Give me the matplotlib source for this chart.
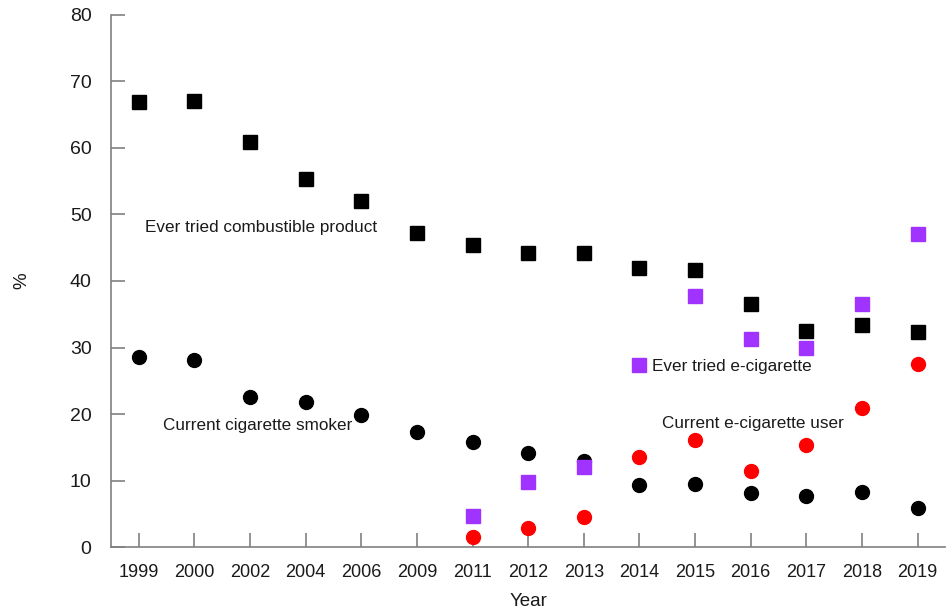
import matplotlib
matplotlib.use("Agg")
import matplotlib.pyplot as plt

plt.rcParams['font.family'] = ['Liberation Sans', 'DejaVu Sans']

years = ['1999', '2000', '2002', '2004', '2006', '2009', '2011', '2012',
         '2013', '2014', '2015', '2016', '2017', '2018', '2019']
ever_combustible = [66.9, 67.0, 60.9, 55.3, 52.0, 47.2, 45.4, 44.2,
                    44.2, 42.0, 41.7, 36.6, 32.5, 33.4, 32.4]
current_cig = [28.6, 28.1, 22.6, 21.8, 19.8, 17.3, 15.8, 14.1,
               12.9, 9.3, 9.5, 8.1, 7.7, 8.2, 5.9]
ecig_years = ['2011', '2012', '2013', '2014', '2015', '2016', '2017', '2018', '2019']
ever_ecig = [4.6, 9.8, 12.0, 27.3, 37.7, 31.3, 29.9, 36.6, 47.1]
current_ecig = [1.5, 2.8, 4.5, 13.5, 16.1, 11.4, 15.3, 20.9, 27.5]

x_all = list(range(len(years)))
x_ecig = [years.index(y) for y in ecig_years]

fig = plt.figure(figsize=(9.46, 6.14), dpi=100)
ax = fig.add_axes([0.1173, 0.1091, 0.882, 0.8665])

ax.plot(x_all, ever_combustible, 's', color='black', markersize=9.5, linestyle='none')
ax.plot(x_all, current_cig, 'o', color='black', markersize=10, linestyle='none')
ax.plot(x_ecig, ever_ecig, 's', color='#a033ff', markersize=9.5, linestyle='none')
ax.plot(x_ecig, current_ecig, 'o', color='#ff0000', markersize=10, linestyle='none')

txt = dict(fontsize=12.3, color='#1a1a1a', va='center', ha='left')
ax.text(0.11, 48.0, 'Ever tried combustible product', **txt)
ax.text(0.43, 18.3, 'Current cigarette smoker', **txt)
ax.text(9.23, 27.1, 'Ever tried e-cigarette', **txt)
ax.text(9.41, 18.5, 'Current e-cigarette user', **txt)

ax.set_xlim(-0.5, 14.5)
ax.set_ylim(0, 80)
ax.set_xticks(x_all)
ax.set_xticklabels(years)
ax.set_yticks(range(0, 81, 10))

for side in ['top', 'right']:
    ax.spines[side].set_visible(False)
for side in ['left', 'bottom']:
    ax.spines[side].set_color('#808080')
    ax.spines[side].set_linewidth(1.2)

ax.tick_params(axis='both', direction='in', length=10, width=1.2,
               color='#808080', labelcolor='#1a1a1a')
ax.tick_params(axis='x', pad=12, labelsize=13)
ax.tick_params(axis='y', pad=14, labelsize=14)

ax.set_xlabel('Year', fontsize=13.5, color='#1a1a1a', labelpad=9)
ax.set_ylabel('%', fontsize=13.5, color='#1a1a1a', labelpad=28)

fig.savefig('out.png', dpi=100)
